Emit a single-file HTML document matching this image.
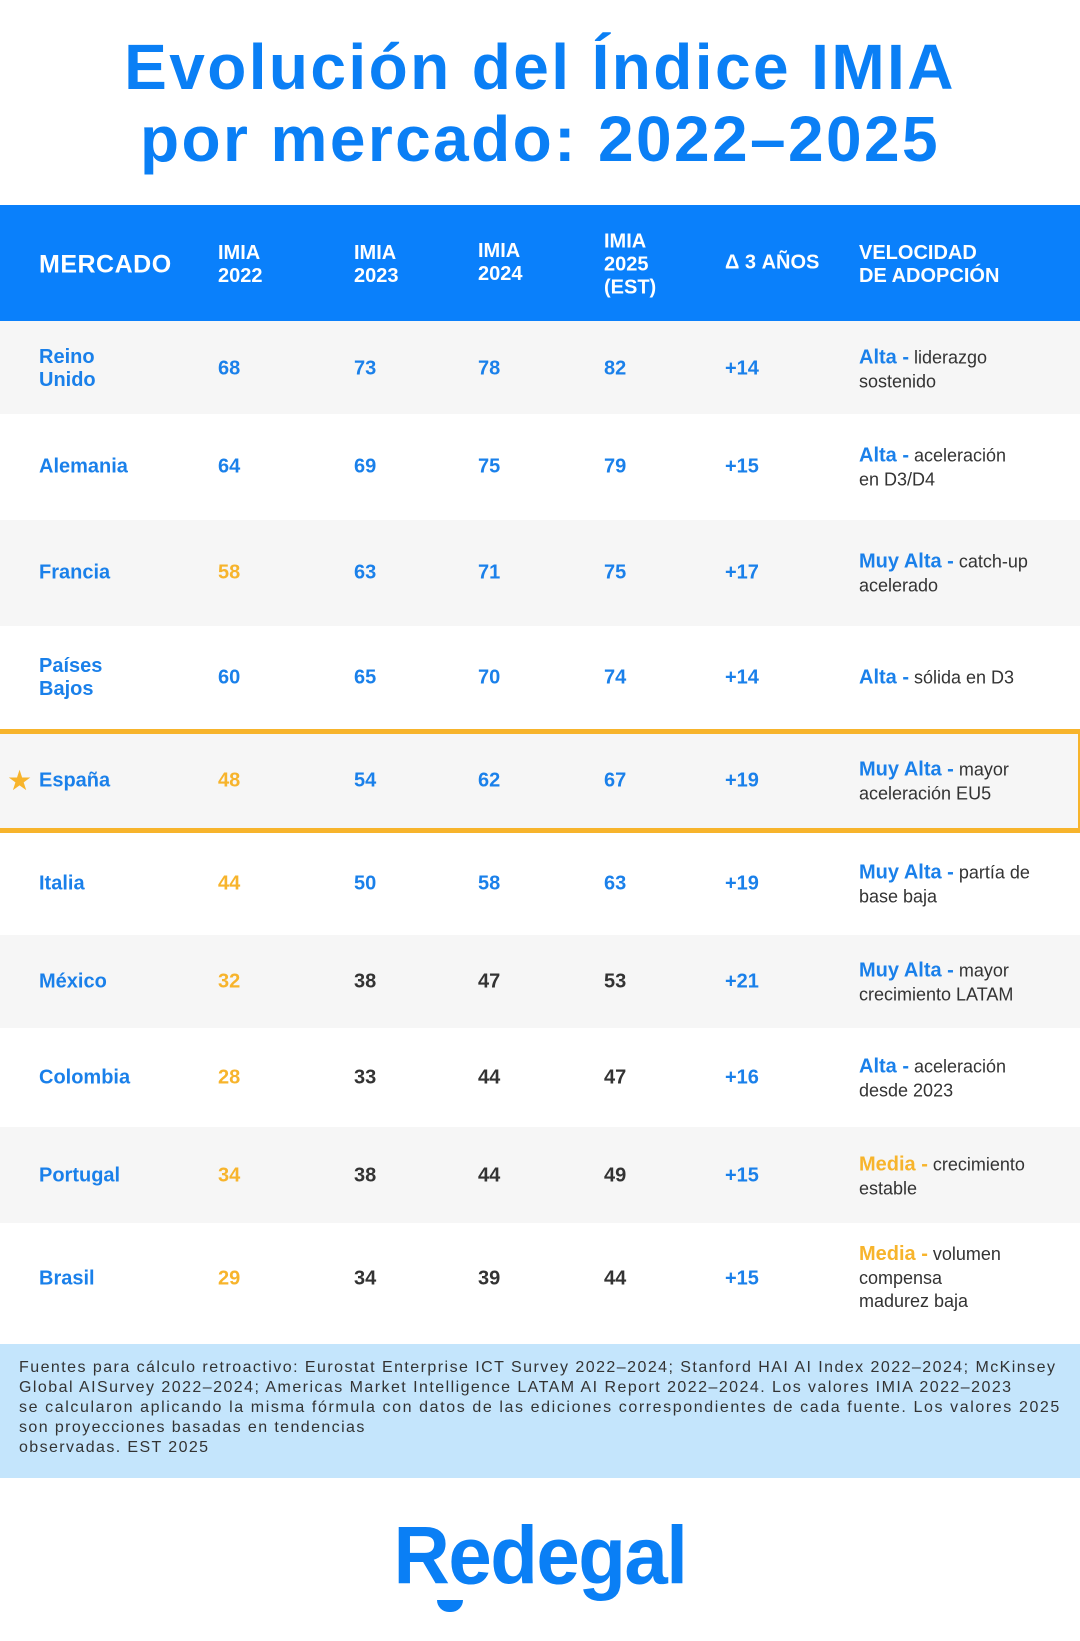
<!DOCTYPE html>
<html><head><meta charset="utf-8"><style>
*{margin:0;padding:0;box-sizing:border-box}
body{width:1080px;height:1641px;background:#fff;font-family:"Liberation Sans",sans-serif;position:relative;overflow:hidden}
.t{position:absolute;left:0;width:1080px;text-align:center;color:#0a7ff5;font-weight:bold;font-size:64px;letter-spacing:2.4px}
.hd{position:absolute;left:0;top:205px;width:1080px;height:116px;background:#0a80fb;color:#fff;font-weight:bold}
.c{position:absolute;transform:translateY(-50%);line-height:1.15}
.row{position:absolute;left:0;width:1080px}
.g{background:#f6f6f6}
.b{color:#1a80ea;font-weight:bold;font-size:20px}
.y{color:#f7b42c;font-weight:bold;font-size:20px}
.k{color:#333;font-weight:bold;font-size:20px}
.v{font-size:18px;color:#333;line-height:1.25}
.v b{font-size:20px}
.bb{color:#1a80ea}.yy{color:#f7b42c}
.foot{position:absolute;left:0;top:1344px;width:1080px;height:134px;background:#c4e5fc;color:#333;font-size:16px;line-height:20px;padding:14px 19px;white-space:nowrap}
</style></head><body>
<div class="t" style="top:30px">Evolución del Índice IMIA</div>
<div class="t" style="top:102px">por mercado: 2022–2025</div>
<div class="hd">
<div class="c" style="left:39px;top:60px;font-size:25px;letter-spacing:0.5px">MERCADO</div>
<div class="c" style="left:218px;top:60px;font-size:20px">IMIA<br>2022</div>
<div class="c" style="left:354px;top:60px;font-size:20px">IMIA<br>2023</div>
<div class="c" style="left:478px;top:58px;font-size:20px">IMIA<br>2024</div>
<div class="c" style="left:604px;top:60px;font-size:20px">IMIA<br>2025<br>(EST)</div>
<div class="c" style="left:725px;top:58px;font-size:20px">Δ 3 AÑOS</div>
<div class="c" style="left:859px;top:60px;font-size:20px">VELOCIDAD<br>DE ADOPCIÓN</div>
</div>
<div class="row g" style="top:321px;height:93px"><div class="c b" style="left:39px;top:48px">Reino<br>Unido</div><div class="c b" style="left:218px;top:48px">68</div><div class="c b" style="left:354px;top:48px">73</div><div class="c b" style="left:478px;top:48px">78</div><div class="c b" style="left:604px;top:48px">82</div><div class="c b" style="left:725px;top:48px">+14</div><div class="c v" style="left:859px;top:48px"><b class="bb">Alta -</b> liderazgo<br>sostenido</div></div>
<div class="row" style="top:414px;height:106px"><div class="c b" style="left:39px;top:53px">Alemania</div><div class="c b" style="left:218px;top:53px">64</div><div class="c b" style="left:354px;top:53px">69</div><div class="c b" style="left:478px;top:53px">75</div><div class="c b" style="left:604px;top:53px">79</div><div class="c b" style="left:725px;top:53px">+15</div><div class="c v" style="left:859px;top:53px"><b class="bb">Alta -</b> aceleración<br>en D3/D4</div></div>
<div class="row g" style="top:520px;height:106px"><div class="c b" style="left:39px;top:53px">Francia</div><div class="c y" style="left:218px;top:53px">58</div><div class="c b" style="left:354px;top:53px">63</div><div class="c b" style="left:478px;top:53px">71</div><div class="c b" style="left:604px;top:53px">75</div><div class="c b" style="left:725px;top:53px">+17</div><div class="c v" style="left:859px;top:53px"><b class="bb">Muy Alta -</b> catch-up<br>acelerado</div></div>
<div class="row" style="top:626px;height:103px"><div class="c b" style="left:39px;top:52px">Países<br>Bajos</div><div class="c b" style="left:218px;top:52px">60</div><div class="c b" style="left:354px;top:52px">65</div><div class="c b" style="left:478px;top:52px">70</div><div class="c b" style="left:604px;top:52px">74</div><div class="c b" style="left:725px;top:52px">+14</div><div class="c v" style="left:859px;top:52px"><b class="bb">Alta -</b> sólida en D3</div></div>
<div class="row g" style="top:729px;height:104px;border-top:5px solid #f7b42c;border-bottom:5px solid #f7b42c;border-right:2px solid #f7b42c"><div class="c" style="left:7px;top:47px;color:#f7b42c;font-size:28px">★</div><div class="c b" style="left:39px;top:47px">España</div><div class="c y" style="left:218px;top:47px">48</div><div class="c b" style="left:354px;top:47px">54</div><div class="c b" style="left:478px;top:47px">62</div><div class="c b" style="left:604px;top:47px">67</div><div class="c b" style="left:725px;top:47px">+19</div><div class="c v" style="left:859px;top:47px"><b class="bb">Muy Alta -</b> mayor<br>aceleración EU5</div></div>
<div class="row" style="top:833px;height:102px"><div class="c b" style="left:39px;top:51px">Italia</div><div class="c y" style="left:218px;top:51px">44</div><div class="c b" style="left:354px;top:51px">50</div><div class="c b" style="left:478px;top:51px">58</div><div class="c b" style="left:604px;top:51px">63</div><div class="c b" style="left:725px;top:51px">+19</div><div class="c v" style="left:859px;top:51px"><b class="bb">Muy Alta -</b> partía de<br>base baja</div></div>
<div class="row g" style="top:935px;height:93px"><div class="c b" style="left:39px;top:47px">México</div><div class="c y" style="left:218px;top:47px">32</div><div class="c k" style="left:354px;top:47px">38</div><div class="c k" style="left:478px;top:47px">47</div><div class="c k" style="left:604px;top:47px">53</div><div class="c b" style="left:725px;top:47px">+21</div><div class="c v" style="left:859px;top:47px"><b class="bb">Muy Alta -</b> mayor<br>crecimiento LATAM</div></div>
<div class="row" style="top:1028px;height:99px"><div class="c b" style="left:39px;top:50px">Colombia</div><div class="c y" style="left:218px;top:50px">28</div><div class="c k" style="left:354px;top:50px">33</div><div class="c k" style="left:478px;top:50px">44</div><div class="c k" style="left:604px;top:50px">47</div><div class="c b" style="left:725px;top:50px">+16</div><div class="c v" style="left:859px;top:50px"><b class="bb">Alta -</b> aceleración<br>desde 2023</div></div>
<div class="row g" style="top:1127px;height:96px"><div class="c b" style="left:39px;top:49px">Portugal</div><div class="c y" style="left:218px;top:49px">34</div><div class="c k" style="left:354px;top:49px">38</div><div class="c k" style="left:478px;top:49px">44</div><div class="c k" style="left:604px;top:49px">49</div><div class="c b" style="left:725px;top:49px">+15</div><div class="c v" style="left:859px;top:49px"><b class="yy">Media -</b> crecimiento<br>estable</div></div>
<div class="row" style="top:1223px;height:121px"><div class="c b" style="left:39px;top:56px">Brasil</div><div class="c y" style="left:218px;top:56px">29</div><div class="c k" style="left:354px;top:56px">34</div><div class="c k" style="left:478px;top:56px">39</div><div class="c k" style="left:604px;top:56px">44</div><div class="c b" style="left:725px;top:56px">+15</div><div class="c v" style="left:859px;top:54px"><b class="yy">Media -</b> volumen<br>compensa<br>madurez baja</div></div>
<div class="foot"><span style="letter-spacing:1.45px">Fuentes para cálculo retroactivo: Eurostat Enterprise ICT Survey 2022–2024; Stanford HAI AI Index 2022–2024; McKinsey</span><br><span style="letter-spacing:1.45px">Global AISurvey 2022–2024; Americas Market Intelligence LATAM AI Report 2022–2024. Los valores IMIA 2022–2023</span><br><span style="letter-spacing:1.6px">se calcularon aplicando la misma fórmula con datos de las ediciones correspondientes de cada fuente. Los valores 2025</span><br><span style="letter-spacing:1.4px">son proyecciones basadas en tendencias</span><br><span style="letter-spacing:1.4px">observadas. EST 2025</span></div>
<div style="position:absolute;left:0;top:1510px;width:1080px;text-align:center;color:#0a7ff5;font-weight:bold;font-size:78px;letter-spacing:-1.5px;transform:scaleY(1.05)">Redegal</div>
<div style="position:absolute;left:437px;top:1600px;width:26px;height:12px;border-radius:0 0 13px 13px;background:#0a7ff5"></div>
</body></html>
